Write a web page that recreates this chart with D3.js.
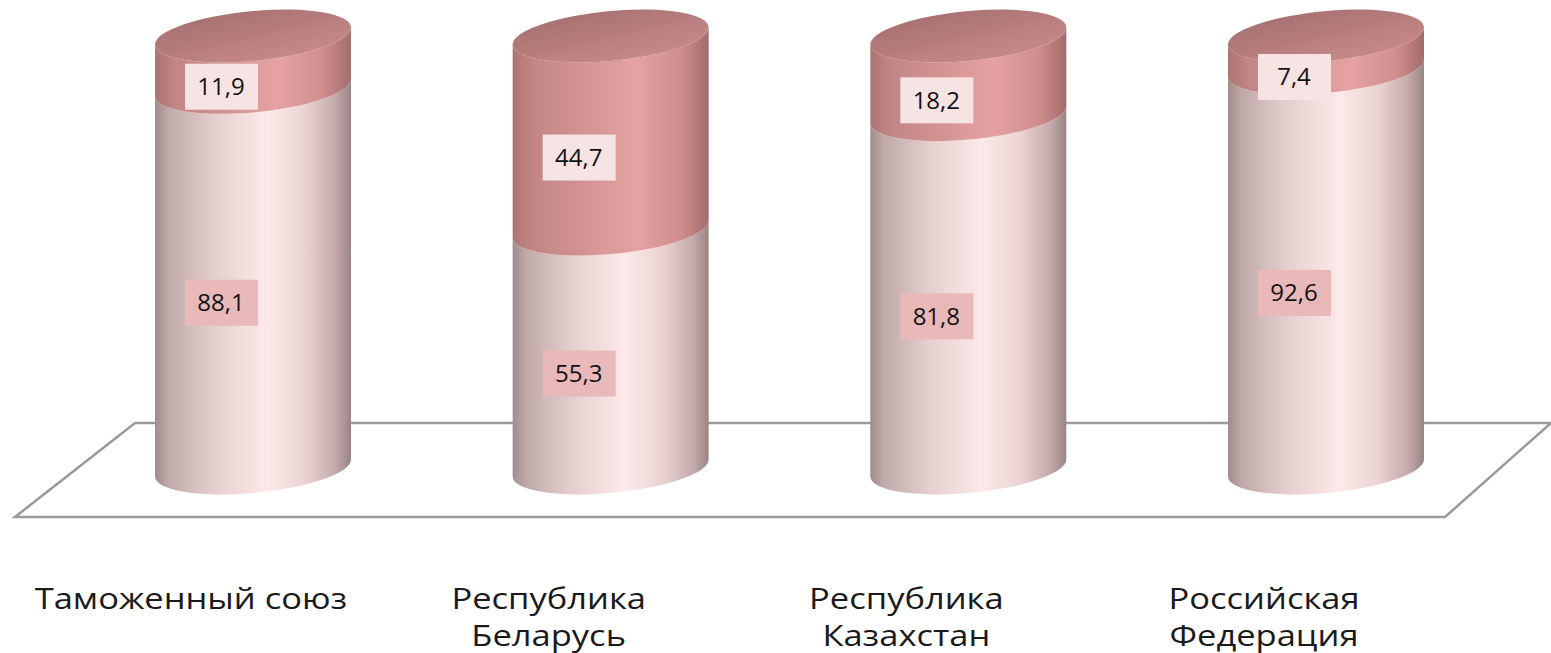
<!DOCTYPE html>
<html>
<head>
<meta charset="utf-8">
<script src="https://cdn.jsdelivr.net/npm/d3@7"></script>
<style>
  body { margin: 0; background: #fff; }
  svg { display: block; }
</style>
</head>
<body>
<div class="viz"></div>
<script>
const w = 1551;
const h = 653;

// data
const categories = ["Таможенный союз", "Республика Беларусь", "Республика Казахстан", "Российская Федерация"];
const categoryLines = [["Таможенный союз"], ["Республика", "Беларусь"], ["Республика", "Казахстан"], ["Российская", "Федерация"]];
const lowerValues = [88.1, 55.3, 81.8, 92.6];
const upperValues = [11.9, 44.7, 18.2, 7.4];

const svg = d3.select(".viz")
    .append("svg")
    .attr("width", w)
    .attr("height", h);

const x = d3.scalePoint()
    .domain(categories)
    .range([253, 1326]);

const y = d3.scaleLinear()
    .domain([0, 100])
    .range([468, 36]);

const rx = 98;
const ry = 25;
const tilt = -5;

const defs = svg.append("defs");

function hGrad(id, stops) {
    const g = defs.append("linearGradient")
        .attr("id", id)
        .attr("x1", "0%").attr("x2", "100%")
        .attr("y1", "0%").attr("y2", "0%");
    stops.forEach(s => g.append("stop").attr("offset", s[0]).attr("stop-color", s[1]));
}

hGrad("gLower", [["0%", "#a08b8b"], ["7%", "#c1a9a9"], ["30%", "#e5cece"], ["57%", "#fde9e9"], ["77%", "#ebd2d2"], ["92%", "#c4aaaa"], ["100%", "#998585"]]);
hGrad("gUpper", [["0%", "#ad7373"], ["10%", "#c28585"], ["40%", "#d69595"], ["63%", "#e6a2a2"], ["86%", "#cf8d8d"], ["100%", "#a36b6b"]]);

const cap = defs.append("linearGradient")
    .attr("id", "gCap")
    .attr("x1", "0%").attr("x2", "60%")
    .attr("y1", "0%").attr("y2", "100%");
cap.append("stop").attr("offset", "0%").attr("stop-color", "#a46e6e");
cap.append("stop").attr("offset", "100%").attr("stop-color", "#c58888");

// floor
const backY = 423, frontY = 517;
svg.append("path")
    .attr("d", `M${x.range()[0] - 118},${backY} L${w},${backY} L${x.range()[1] + 119},${frontY} L${x.range()[0] - 238},${frontY} Z`)
    .attr("fill", "#fff")
    .attr("stroke", "#9a9a9a")
    .attr("stroke-width", 2.5)
    .attr("stroke-linejoin", "miter");

// side of a segment between value a (bottom) and b (top)
function sidePath(cx, a, b) {
    const yb = y(a), yt = y(b);
    return `M${cx - rx},${yt} L${cx - rx},${yb} A${rx},${ry} 0 0 0 ${cx + rx},${yb} ` +
        `L${cx + rx},${yt} A${rx},${ry} 0 0 1 ${cx - rx},${yt} Z`;
}

const bars = svg.selectAll("g.bar")
    .data(categories)
    .enter()
    .append("g")
    .attr("class", "bar");

const cyl = bars.append("g")
    .attr("transform", d => `translate(${x(d)},0) skewY(${tilt}) translate(${-x(d)},0)`);

cyl.append("path")
    .attr("d", (d, i) => sidePath(x(d), 0, lowerValues[i]))
    .attr("fill", "url(#gLower)");

cyl.append("path")
    .attr("d", (d, i) => sidePath(x(d), lowerValues[i], lowerValues[i] + upperValues[i]))
    .attr("fill", "url(#gUpper)");

cyl.append("ellipse")
    .attr("cx", d => x(d))
    .attr("cy", (d, i) => y(lowerValues[i] + upperValues[i]))
    .attr("rx", rx)
    .attr("ry", ry)
    .attr("fill", "url(#gCap)");

// value labels
function addLabel(sel, getMid, getVal, bg) {
    const g = sel.append("g")
        .attr("transform", (d, i) => `translate(${x(d) - 32},${getMid(i) + ry})`);
    g.append("rect")
        .attr("x", -36).attr("y", -23)
        .attr("width", 73).attr("height", 46)
        .attr("fill", bg);
    g.append("text")
        .attr("text-anchor", "middle")
        .attr("dy", "0.35em")
        .style("font-family", "'Open Sans', sans-serif")
        .style("font-size", "24px")
        .style("fill", "#111")
        .text((d, i) => String(getVal(i)).replace(".", ","));
}

addLabel(bars, i => (y(0) + y(lowerValues[i])) / 2, i => lowerValues[i], "#e9b8b8");
addLabel(bars, i => (y(lowerValues[i]) + y(lowerValues[i] + upperValues[i])) / 2, i => upperValues[i], "#f6e3e3");

// category labels
const cat = svg.selectAll("g.cat")
    .data(categories)
    .enter()
    .append("g")
    .attr("class", "cat")
    .attr("transform", d => `translate(${x(d) - 62},0) scale(1.17,1)`);

cat.selectAll("text")
    .data((d, i) => categoryLines[i])
    .enter()
    .append("text")
    .attr("text-anchor", "middle")
    .attr("x", 0)
    .attr("y", (d, j) => 609 + j * 37)
    .style("font-family", "'Open Sans', sans-serif")
    .style("font-size", "29.5px")
    .style("fill", "#1a1a1a")
    .text(d => d);
</script>
</body>
</html>
